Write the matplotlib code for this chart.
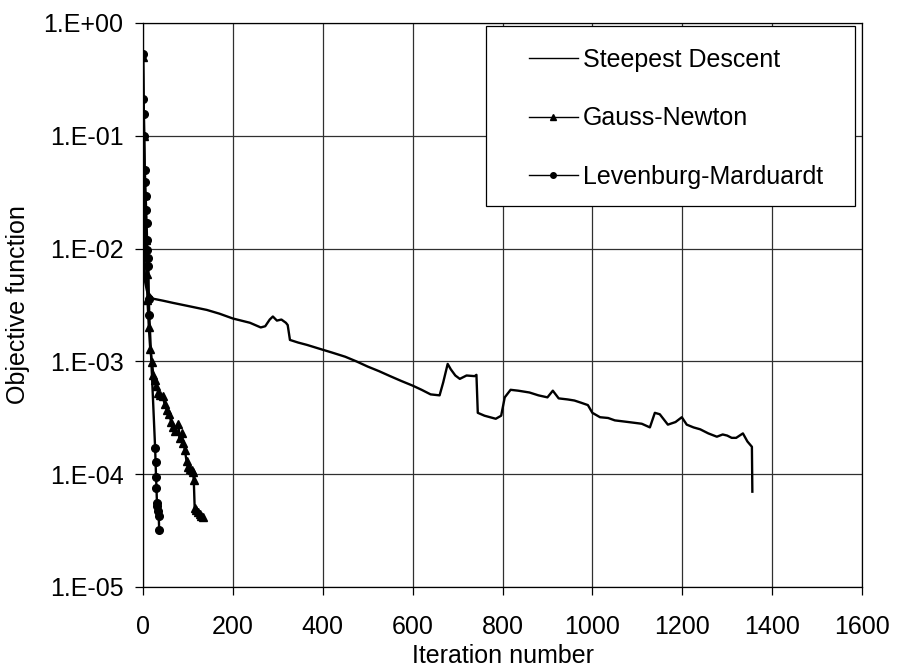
import matplotlib
matplotlib.use('Agg')
import matplotlib.pyplot as plt
from matplotlib.patches import Rectangle

plt.rcParams['font.family'] = ['Liberation Sans', 'DejaVu Sans']

# Steepest Descent
sd_iter = [0, 1, 2, 3, 5, 9, 22, 45, 67, 100, 142, 170, 200, 238, 262, 272, 282, 289,
           298, 308, 318, 322, 327, 345, 365, 394, 420, 450, 475, 500, 525, 550, 575,
           600, 620, 640, 660, 668, 678, 685, 695, 705, 720, 738, 742, 745, 760, 785,
           797, 805, 818, 835, 860, 880, 900, 912, 925, 945, 960, 975, 990, 1000, 1017,
           1035, 1050, 1065, 1080, 1095, 1110, 1128, 1139, 1150, 1168, 1185, 1199, 1210,
           1225, 1240, 1258, 1277, 1290, 1300, 1310, 1320, 1335, 1345, 1355, 1356]
sd_obj = [0.5, 0.05, 1.5e-2, 7e-3, 5e-3, 4.2e-3, 3.6e-3, 3.45e-3, 3.3e-3, 3.1e-3, 2.86e-3,
          2.65e-3, 2.4e-3, 2.2e-3, 2.0e-3, 2.05e-3, 2.35e-3, 2.5e-3,
          2.3e-3, 2.35e-3, 2.2e-3, 2.1e-3, 1.55e-3, 1.47e-3, 1.4e-3, 1.29e-3, 1.2e-3,
          1.1e-3, 1.0e-3, 9e-4, 8.2e-4, 7.4e-4, 6.7e-4,
          6.1e-4, 5.6e-4, 5.1e-4, 5.0e-4, 6.5e-4, 9.5e-4, 8.5e-4, 7.5e-4, 7.0e-4, 7.5e-4,
          7.4e-4, 7.6e-4, 3.5e-4, 3.3e-4, 3.1e-4,
          3.3e-4, 4.8e-4, 5.6e-4, 5.5e-4, 5.3e-4, 5.0e-4, 4.8e-4, 5.5e-4, 4.7e-4, 4.6e-4,
          4.5e-4, 4.3e-4, 4.1e-4, 3.5e-4, 3.2e-4,
          3.15e-4, 3.0e-4, 2.95e-4, 2.9e-4, 2.85e-4, 2.8e-4, 2.6e-4, 3.5e-4, 3.4e-4,
          2.75e-4, 2.9e-4, 3.2e-4, 2.75e-4,
          2.6e-4, 2.5e-4, 2.3e-4, 2.15e-4, 2.25e-4, 2.2e-4, 2.1e-4, 2.1e-4, 2.3e-4,
          1.95e-4, 1.75e-4, 7e-5]

# Gauss-Newton
gn_iter = [0, 2, 4, 6, 8, 10, 13, 16, 20, 23, 26, 30, 34, 38, 44, 48, 53, 58, 63, 67,
           72, 78, 82, 86, 90, 93, 97, 100, 104, 108, 111, 113, 115, 118, 122, 126,
           130, 134]
gn_obj = [0.5, 0.1, 0.03, 0.012, 0.006, 0.0035, 0.002, 0.0013, 9.9e-4, 7.5e-4, 6.8e-4,
          6.0e-4, 5.3e-4, 5.0e-4, 4.9e-4, 4.2e-4, 3.7e-4, 3.4e-4, 2.9e-4, 2.6e-4,
          2.4e-4, 2.8e-4, 2.1e-4, 2.3e-4, 1.9e-4, 1.65e-4, 1.3e-4, 1.15e-4, 1.12e-4,
          1.08e-4, 1.05e-4, 8.9e-5, 5.0e-5, 4.8e-5, 4.6e-5, 4.4e-5,
          4.3e-5, 4.2e-5]

# Levenburg-Marduardt
lm_iter = [0, 1, 2, 3, 4, 5, 6, 7, 8, 9, 10, 11, 12, 13, 14, 27, 28, 29, 30, 31, 32,
           33, 35, 36]
lm_obj = [0.53, 0.21, 0.156, 0.1, 0.05, 0.039, 0.029, 0.022, 0.017, 0.012, 0.0098,
          0.0083, 0.0070, 0.0036, 0.0026, 1.7e-4, 1.28e-4, 9.5e-5, 7.6e-5, 5.6e-5,
          5.2e-5, 4.7e-5, 4.3e-5, 3.2e-5]

x_ticks = [0, 200, 400, 600, 800, 1000, 1200, 1400, 1600]
y_ticks = [1e-5, 1e-4, 1e-3, 1e-2, 1e-1, 1e0]
y_labels = ['1.E-05', '1.E-04', '1.E-03', '1.E-02', '1.E-01', '1.E+00']

fig = plt.figure(figsize=(8.97, 6.69), dpi=100)
ax = fig.add_axes([143 / 897, 1 - 587 / 669, 719 / 897, 564 / 669])

ax.plot(sd_iter, sd_obj, color='black', lw=1.7, label='Steepest Descent')
ax.plot(gn_iter, gn_obj, color='black', lw=1.7, marker='^', markersize=5.5,
        label='Gauss-Newton')
ax.plot(lm_iter, lm_obj, color='black', lw=1.7, marker='o', markersize=5.5,
        label='Levenburg-Marduardt')

ax.set_yscale('log')
ax.set_xlim(0, 1600)
ax.set_ylim(1e-5, 1)
ax.set_xticks(x_ticks)
ax.set_xticklabels([str(v) for v in x_ticks])
ax.set_yticks(y_ticks)
ax.set_yticklabels(y_labels)
ax.minorticks_off()
ax.grid(True, color='#303030', lw=0.9)
ax.set_axisbelow(True)
for s in ax.spines.values():
    s.set_color('black')
    s.set_linewidth(0.9)

ax.tick_params(axis='both', labelsize=18, direction='out', length=6, width=0.9)
ax.tick_params(axis='x', pad=14)
ax.tick_params(axis='y', pad=8)

ax.set_xlabel('Iteration number', fontsize=18, labelpad=4)
ax.set_ylabel('Objective function', fontsize=18, labelpad=10)

# legend box like the spreadsheet one
box = Rectangle((0.477, 0.675), 0.513, 0.32, transform=ax.transAxes,
                facecolor='white', edgecolor='black', lw=0.9, zorder=4)
ax.add_patch(box)
leg = ax.legend(loc='upper left', bbox_to_anchor=(0.537, 0.956), fontsize=18,
                frameon=False, borderpad=0, borderaxespad=0, handlelength=1.95,
                handletextpad=0.2, labelspacing=1.38)
leg.set_zorder(5)
for h in leg.get_lines():
    h.set_linewidth(1.0)
    h.set_markersize(4)

fig.savefig('out.png', dpi=100)
